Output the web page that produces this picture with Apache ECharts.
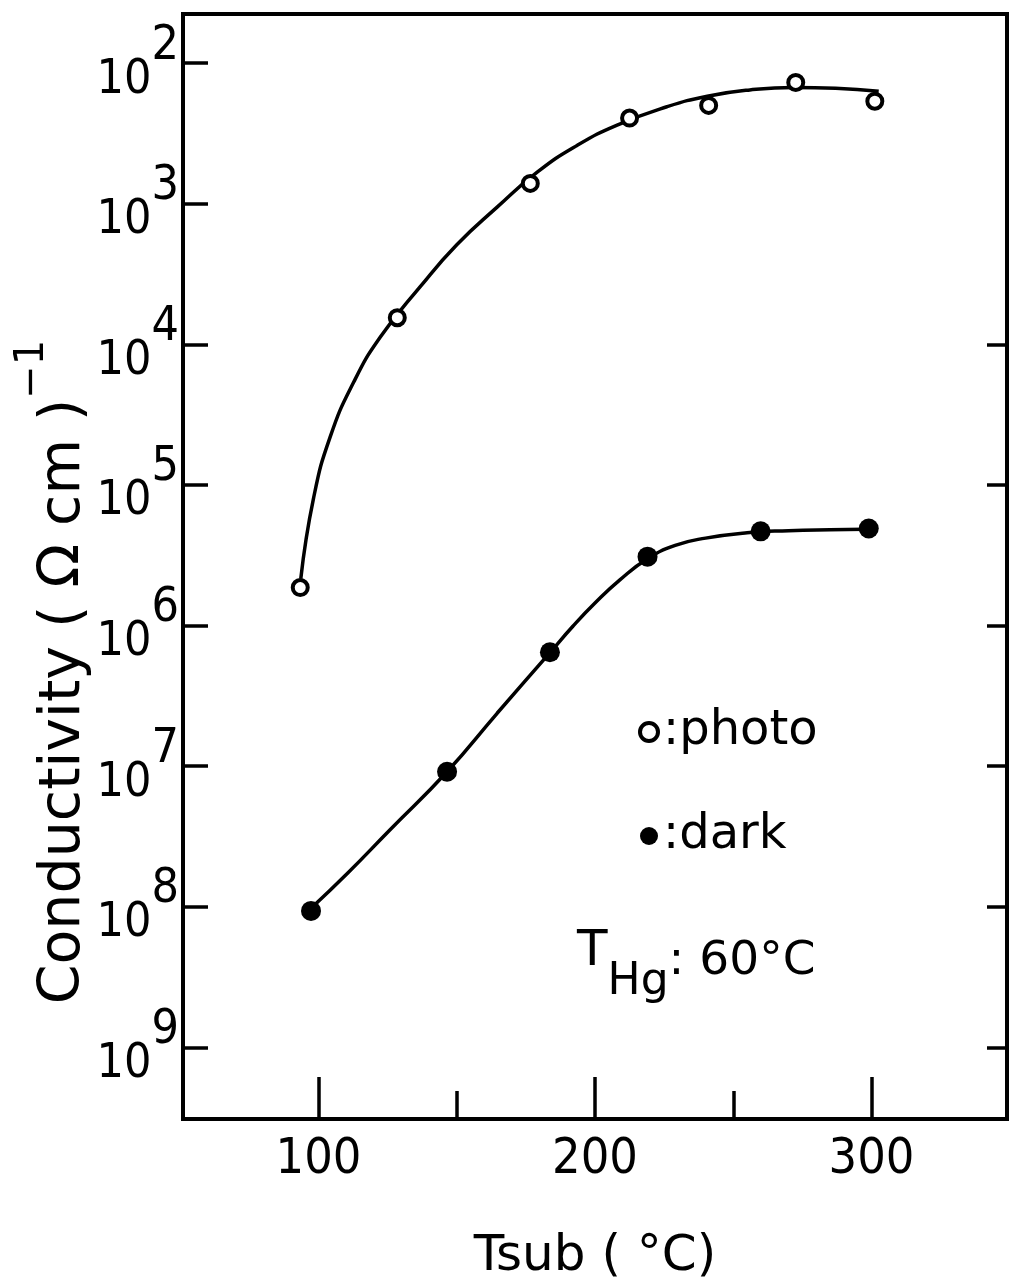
<!DOCTYPE html>
<html>
<head>
<meta charset="utf-8">
<title>Conductivity vs Tsub</title>
<script src="https://cdn.jsdelivr.net/npm/echarts@6/dist/echarts.min.js"></script>
<style>
  html, body { margin: 0; padding: 0; background: #fff; }
  #chart { width: 1011px; height: 1283px; }
</style>
</head>
<body>
<div id="chart"></div>
<script>
// y value n is the decade printed as 10^n on the figure
const decades = [2, 3, 4, 5, 6, 7, 8, 9];
const rightTicks = [4, 5, 6, 7, 8, 9];
const tempTicks = [100, 200, 300];
const tempMinorTicks = [150, 250];

// measured points [Tsub, decade]
const photoPoints = [[93.4, 5.73], [128.5, 3.81], [176.6, 2.855], [212.5, 2.39], [241.1, 2.30], [272.6, 2.137], [301.2, 2.27]];
const darkPoints = [[97.3, 8.03], [146.5, 7.04], [183.7, 6.19], [219, 5.51], [259.9, 5.33], [299, 5.31]];

// hand drawn guide curves
const photoCurve = [[93.6, 5.667], [98.2, 5.095], [104.2, 4.66], [112.7, 4.27], [122.3, 3.95], [136.8, 3.59],
  [150.1, 3.29], [164.6, 3.024], [179.1, 2.775], [193.5, 2.585], [208, 2.44], [226, 2.31], [240.6, 2.235],
  [256, 2.19], [272, 2.172], [287, 2.178], [302.6, 2.20]];
const darkCurve = [[97.3, 8.011], [110.5, 7.762], [125.8, 7.454], [146.5, 7.04], [164.6, 6.624], [183.7, 6.193],
  [192, 6.005], [200, 5.84], [209, 5.675], [219, 5.525], [229, 5.43], [240, 5.378], [255, 5.34], [270, 5.325],
  [285, 5.318], [297.6, 5.315]];

const numFont = '"Liberation Sans Narrow", "DejaVu Sans Condensed", "DejaVu Sans", sans-serif';
const textFont = '"DejaVu Sans", sans-serif';

const chart = echarts.init(document.getElementById('chart'));

chart.setOption({
  backgroundColor: '#fff',
  animation: false,
  grid: {
    left: 183, right: 4, top: 14, bottom: 164,
    show: true, borderColor: '#000', borderWidth: 4
  },
  xAxis: [
    {
      type: 'value', min: 51, max: 349,
      axisLine: { show: false },
      splitLine: { show: false },
      axisTick: { inside: true, length: 42, customValues: tempTicks, lineStyle: { color: '#000', width: 3.5 } },
      axisLabel: { customValues: tempTicks, margin: 16, color: '#000', fontSize: 50, fontFamily: numFont }
    },
    {
      type: 'value', min: 51, max: 349, position: 'bottom',
      axisLine: { show: false },
      splitLine: { show: false },
      axisLabel: { show: false },
      axisTick: { inside: true, length: 28, customValues: tempMinorTicks, lineStyle: { color: '#000', width: 3.5 } }
    }
  ],
  yAxis: [
    {
      type: 'value', inverse: true, min: 1.65, max: 9.51,
      axisLine: { show: false },
      splitLine: { show: false },
      axisTick: { inside: true, length: 25, customValues: decades, lineStyle: { color: '#000', width: 3.5 } },
      axisLabel: {
        customValues: decades, margin: 4,
        formatter: v => '{b|10}{s|' + v + '}',
        rich: {
          b: { fontSize: 48, fontFamily: numFont, color: '#000', padding: [34, 0, 0, 0] },
          s: { fontSize: 48, fontFamily: numFont, color: '#000', padding: [0, 0, 34, 0] }
        }
      }
    },
    {
      type: 'value', inverse: true, min: 1.65, max: 9.51, position: 'right',
      axisLine: { show: false },
      splitLine: { show: false },
      axisLabel: { show: false },
      axisTick: { inside: true, length: 20, customValues: rightTicks, lineStyle: { color: '#000', width: 3.5 } }
    }
  ],
  legend: {
    orient: 'vertical', left: 633, top: 698,
    data: [
      { name: 'photo', icon: 'circle', itemStyle: { color: '#fff', borderColor: '#000', borderWidth: 4 } },
      { name: 'dark', icon: 'circle', itemStyle: { color: '#000', borderWidth: 0 } }
    ],
    itemWidth: 18, itemHeight: 18, itemGap: 46,
    formatter: name => ':' + name,
    textStyle: { color: '#000', fontSize: 48, fontFamily: textFont, lineHeight: 58 },
    selectedMode: false
  },
  graphic: [
    {
      type: 'text', x: 64, y: 672, rotation: Math.PI / 2,
      style: {
        text: '{m|Conductivity ( Ω cm )}{s|−1}',
        align: 'center', verticalAlign: 'middle',
        rich: {
          m: { fontSize: 57, fontFamily: textFont, fill: '#000' },
          s: { fontSize: 40, fontFamily: textFont, fill: '#000', padding: [0, 0, 62, 0] }
        }
      }
    },
    {
      type: 'text', x: 577, y: 962,
      style: {
        text: '{t|T}{h|Hg}{r|: 60°C}',
        align: 'left', verticalAlign: 'middle',
        rich: {
          t: { fontSize: 50, fontFamily: textFont, fill: '#000', padding: [0, 0, 20, 0] },
          h: { fontSize: 44, fontFamily: textFont, fill: '#000', padding: [42, 0, 0, 0] },
          r: { fontSize: 47, fontFamily: textFont, fill: '#000' }
        }
      }
    },
    {
      type: 'text', x: 595, y: 1257,
      style: {
        text: 'Tsub ( °C)', align: 'center', verticalAlign: 'middle',
        fontSize: 50, fontFamily: textFont, fill: '#000'
      }
    }
  ],
  series: [
    {
      type: 'line', data: photoCurve, smooth: 0.5, symbol: 'none', z: 2,
      lineStyle: { color: '#000', width: 3.5 }
    },
    {
      type: 'line', data: darkCurve, smooth: 0.5, symbol: 'none', z: 2,
      lineStyle: { color: '#000', width: 3.5 }
    },
    {
      name: 'photo', type: 'scatter', data: photoPoints, symbol: 'circle', symbolSize: 15, z: 3,
      itemStyle: { color: '#fff', borderColor: '#000', borderWidth: 4, opacity: 1 }
    },
    {
      name: 'dark', type: 'scatter', data: darkPoints, symbol: 'circle', symbolSize: 20, z: 3,
      itemStyle: { color: '#000', opacity: 1 }
    }
  ]
});
</script>
</body>
</html>
